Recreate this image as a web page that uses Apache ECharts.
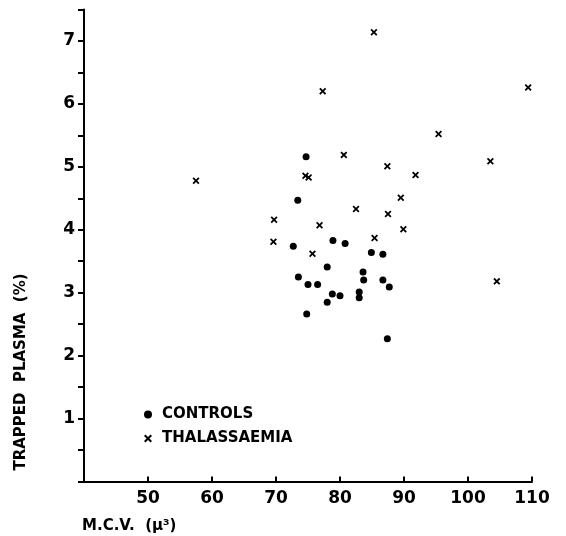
<!DOCTYPE html>
<html>
<head>
<meta charset="utf-8">
<script src="https://cdn.jsdelivr.net/npm/echarts@6/dist/echarts.min.js"></script>
<style>
html,body{margin:0;padding:0;background:#fff;}
#c{width:566px;height:536px;}
</style>
</head>
<body>
<div id="c"></div>
<script>
// Controls: [MCV, trapped plasma %]
const controls = [
  [74.7,5.16],[73.4,4.47],[72.7,3.74],[73.5,3.25],[75.0,3.13],[74.8,2.66],
  [78.9,3.83],[80.8,3.78],[84.9,3.64],[86.7,3.61],[78.0,3.41],[83.6,3.33],
  [83.7,3.20],[86.7,3.20],[87.7,3.09],[76.5,3.13],[78.8,2.98],[80.0,2.95],
  [83.0,3.01],[83.0,2.92],[78.0,2.85],[87.4,2.27]
];
// Thalassaemia: [MCV, trapped plasma %]
const thalassaemia = [
  [57.5,4.78],[69.7,4.16],[69.6,3.81],[74.6,4.86],[75.1,4.83],[75.7,3.62],
  [76.8,4.07],[77.3,6.20],[80.6,5.19],[82.5,4.33],[85.3,7.14],[85.4,3.87],
  [87.4,5.01],[87.5,4.25],[89.5,4.51],[89.9,4.01],[91.8,4.87],[95.4,5.52],
  [103.5,5.09],[104.5,3.18],[109.4,6.26]
];
const xTickLabels = [50,60,70,80,90,100,110];
const yTickLabels = [1,2,3,4,5,6,7];
const seriesNames = ['CONTROLS','THALASSAEMIA'];

const FONT = '"DejaVu Sans", sans-serif';
const crossPath = 'path://M0,1.8 L1.8,0 L5,3.2 L8.2,0 L10,1.8 L6.8,5 L10,8.2 L8.2,10 L5,6.8 L1.8,10 L0,8.2 L3.2,5 Z';

const chart = echarts.init(document.getElementById('c'), null, {renderer:'canvas'});
chart.setOption({
  animation:false,
  backgroundColor:'#fff',
  grid:{left:84, right:34, top:9.5, bottom:54.5, containLabel:false},
  xAxis:{
    type:'value', min:40, max:110, interval:10,
    axisLine:{lineStyle:{color:'#000', width:2}},
    axisTick:{inside:true, length:5, lineStyle:{color:'#000', width:2}},
    splitLine:{show:false},
    axisLabel:{
      margin:9, color:'#000', fontFamily:FONT, fontSize:17, fontWeight:'bold',
      formatter:v => xTickLabels.includes(v) ? String(v) : ''
    }
  },
  yAxis:{
    type:'value', min:0, max:7.5, interval:0.5,
    axisLine:{show:true, lineStyle:{color:'#000', width:2}},
    axisTick:{show:true, inside:false, length:6, lineStyle:{color:'#000', width:2}},
    splitLine:{show:false},
    axisLabel:{
      margin:9, color:'#000', fontFamily:FONT, fontSize:17, fontWeight:'bold',
      formatter:v => yTickLabels.includes(v) ? String(v) : ''
    }
  },
  legend:{
    orient:'vertical', left:139, top:402, itemGap:9,
    itemWidth:8, itemHeight:8,
    textStyle:{color:'#000', fontFamily:FONT, fontSize:15, fontWeight:'bold', padding:[0,0,0,5]},
    data:[{name:seriesNames[0], icon:'circle'},{name:seriesNames[1], icon:crossPath}]
  },
  title:{
    text:'M.C.V.  (\u03bc\u00b3)', left:82, top:519, padding:0,
    textStyle:{color:'#000', fontFamily:FONT, fontSize:15, fontWeight:'bold'}
  },
  graphic:[{
    type:'text', x:21, y:372, rotation:Math.PI/2,
    style:{text:'TRAPPED  PLASMA  (%)', fill:'#000', font:'bold 15px "DejaVu Sans", sans-serif',
      textAlign:'center', textVerticalAlign:'middle'}
  }],
  series:[
    {name:seriesNames[0], type:'scatter', data:controls, symbol:'circle', symbolSize:7,
     itemStyle:{color:'#000', opacity:1}},
    {name:seriesNames[1], type:'scatter', data:thalassaemia, symbol:crossPath, symbolSize:7,
     itemStyle:{color:'#000', opacity:1}}
  ]
});
</script>
</body>
</html>
